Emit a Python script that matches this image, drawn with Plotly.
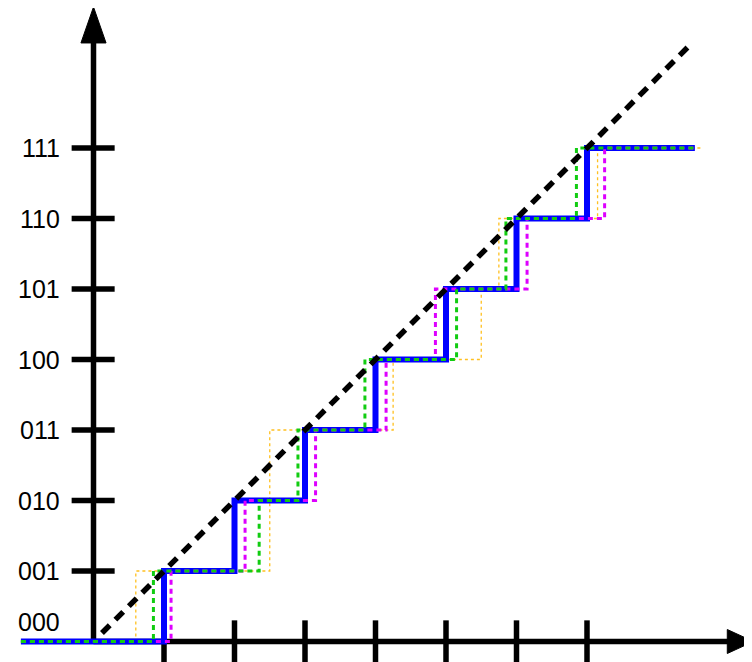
import plotly.graph_objects as go

# ---- data ----
code_labels = ["000", "001", "010", "011", "100", "101", "110", "111"]
codes = [0, 1, 2, 3, 4, 5, 6, 7]
x_ticks = [1, 2, 3, 4, 5, 6, 7]
ideal_transitions = [1.0, 2.0, 3.0, 4.0, 5.0, 6.0, 7.0]
green_transitions = [0.85, 2.35, 2.9, 3.85, 5.15, 5.85, 6.85]
magenta_transitions = [1.1, 2.15, 3.15, 4.15, 4.85, 6.15, 7.25]
orange_transitions = [0.6, 2.5, 2.5, 4.25, 5.5, 5.75, 7.15]  # missing code 010
ideal_line = [0.12, 8.5]
x_start, x_end = -1.03, 8.53
orange_end = 8.62

fig = go.Figure()


def stair(trans, start, end):
    xs = [start] + list(trans) + [end]
    ys = codes + [codes[-1]]
    return xs, ys


xs, ys = stair(orange_transitions, x_start, orange_end)
fig.add_trace(go.Scatter(x=xs, y=ys, mode="lines", line_shape="hv",
                         line=dict(color="#FFC020", width=1.3, dash="dot"),
                         hoverinfo="skip"))
xs, ys = stair(ideal_transitions, x_start, x_end)
fig.add_trace(go.Scatter(x=xs, y=ys, mode="lines", line_shape="hv",
                         line=dict(color="#0000FF", width=6),
                         hoverinfo="skip"))
xs, ys = stair(magenta_transitions, x_start, x_end)
fig.add_trace(go.Scatter(x=xs, y=ys, mode="lines", line_shape="hv",
                         line=dict(color="#DD00FF", width=3, dash="5px,4px"),
                         hoverinfo="skip"))
xs, ys = stair(green_transitions, x_start, x_end)
fig.add_trace(go.Scatter(x=xs, y=ys, mode="lines", line_shape="hv",
                         line=dict(color="#11CC11", width=3, dash="5px,4px"),
                         hoverinfo="skip"))
fig.add_trace(go.Scatter(x=ideal_line, y=ideal_line, mode="lines",
                         line=dict(color="black", width=5.5, dash="11px,8px"),
                         hoverinfo="skip"))

# ---- axes (arrows) ----
ax_w = 5.5
shapes = []
shapes.append(dict(type="line", x0=0, y0=0, x1=0, y1=8.5, line=dict(color="black", width=ax_w), layer="below"))
shapes.append(dict(type="line", x0=0, y0=0, x1=9.0, y1=0, line=dict(color="black", width=ax_w), layer="below"))
shapes.append(dict(type="path", path="M -0.178 8.49 L 0 9.0 L 0.178 8.49 Z",
                   fillcolor="black", line=dict(color="black", width=1), layer="below"))
shapes.append(dict(type="path", path="M 8.99 0.17 L 9.36 0 L 8.99 -0.17 Z",
                   fillcolor="black", line=dict(color="black", width=1), layer="below"))
for t in x_ticks:
    shapes.append(dict(type="line", x0=t, y0=-0.45, x1=t, y1=0.3,
                       line=dict(color="black", width=ax_w), layer="below"))
for c in codes[1:]:
    shapes.append(dict(type="line", x0=-0.31, y0=c, x1=0.3, y1=c,
                       line=dict(color="black", width=ax_w), layer="below"))

annotations = []
for c, lab in zip(codes, code_labels):
    yy = c if c > 0 else 0.28
    annotations.append(dict(x=-0.45, y=yy, text=lab, showarrow=False,
                            xanchor="right", yanchor="middle",
                            font=dict(family="Liberation Sans, Arial", size=25, color="black")))

# page body has an 8px default margin: compensate so the origin lands at (93.5, 641.5)
page_offset = 8
scale = 70.5
x0px, y0px = 93.5 - page_offset, 641.5 - page_offset
W, H = 752, 662
fig.update_layout(
    width=W, height=H,
    margin=dict(l=0, r=0, t=0, b=0),
    paper_bgcolor="white", plot_bgcolor="white",
    showlegend=False,
    shapes=shapes, annotations=annotations,
    xaxis=dict(range=[-x0px / scale, (W - x0px) / scale], visible=False, fixedrange=True),
    yaxis=dict(range=[-(H - y0px) / scale, y0px / scale], visible=False, fixedrange=True),
)

fig.write_html("out.html")
